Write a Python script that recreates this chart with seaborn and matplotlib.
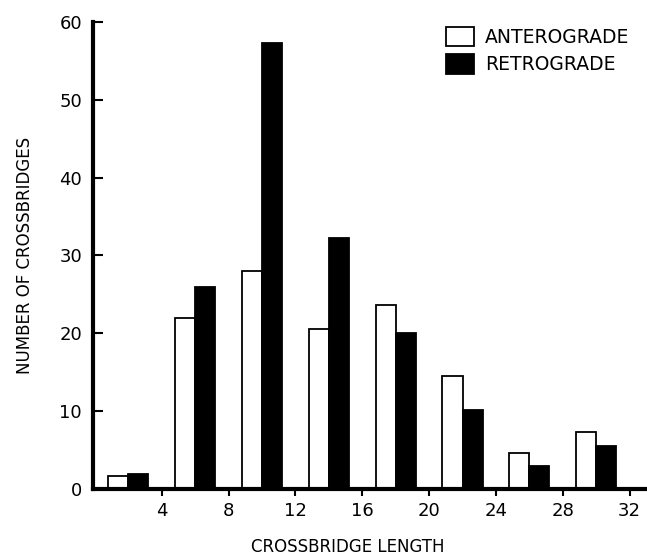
import pandas as pd
import matplotlib.pyplot as plt
import seaborn as sns

lengths = [2, 6, 10, 14, 18, 22, 26, 30]
anterograde = [1.7, 22, 28, 20.6, 23.7, 14.5, 4.6, 7.3]
retrograde = [1.9, 26, 57.3, 32.2, 20.1, 10.1, 3.0, 5.6]
groups = ["ANTEROGRADE", "RETROGRADE"]

df = pd.DataFrame({
    "length": lengths * 2,
    "count": anterograde + retrograde,
    "group": [groups[0]] * len(lengths) + [groups[1]] * len(lengths),
})

sns.set_style("ticks", {"axes.edgecolor": "black", "text.color": "black",
                        "xtick.color": "black", "ytick.color": "black",
                        "axes.labelcolor": "black"})
plt.rcParams["font.family"] = ["DejaVu Sans"]

fig = plt.figure(figsize=(6.47, 5.59), dpi=100)
ax = fig.add_axes([0.144, 0.125, 0.855, 0.836])

sns.barplot(data=df, x="length", y="count", hue="group", native_scale=True,
            palette=["white", "black"], edgecolor="black", linewidth=1.3,
            width=0.6, dodge=True, ax=ax)

ax.set_xlim(-0.1, 33)
ax.set_ylim(0, 60)
ax.set_xticks([4, 8, 12, 16, 20, 24, 28, 32])
ax.set_yticks([0, 10, 20, 30, 40, 50, 60])
sns.despine(ax=ax)
ax.spines["left"].set_linewidth(3)
ax.spines["bottom"].set_linewidth(3)
ax.tick_params(axis="y", direction="in", length=7, width=1.5, labelsize=13, pad=8)
ax.tick_params(axis="x", direction="out", length=5, width=1.5, labelsize=13, pad=4)

ax.set_xlabel("CROSSBRIDGE LENGTH", fontsize=12)
ax.set_ylabel("NUMBER OF CROSSBRIDGES", fontsize=12, labelpad=18)
ax.xaxis.set_label_coords(0.46, -0.105)

handles, labels = ax.get_legend_handles_labels()
ax.legend(handles, labels, loc="upper right", bbox_to_anchor=(1.0, 1.025),
          frameon=False, fontsize=13.5, handlelength=1.5, handleheight=1.2,
          labelspacing=0.4, handletextpad=0.6)

fig.savefig("out.png", dpi=100)
